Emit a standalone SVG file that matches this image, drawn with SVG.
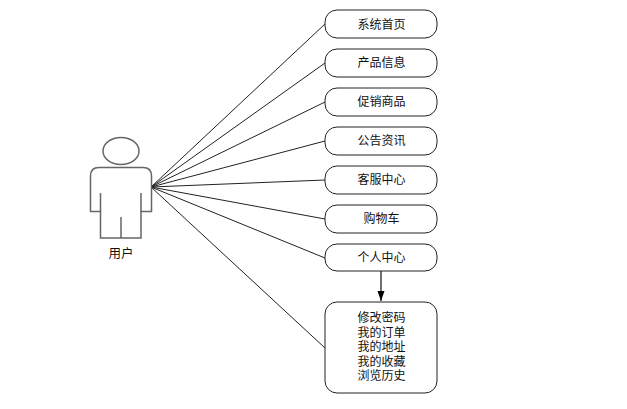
<svg xmlns="http://www.w3.org/2000/svg" width="627" height="409" viewBox="0 0 627 409">
<style>
.box{fill:#fff;stroke:#222;stroke-width:1}
.link{fill:none;stroke:#222;stroke-width:1}
.drop{fill:none;stroke:#222;stroke-width:1.300}
.actor{fill:#fff;stroke:#666;stroke-width:1.500}
text{font-family:"Noto Sans CJK SC","Liberation Sans",sans-serif;font-size:12px;fill:#111;text-anchor:middle}
</style>
<defs>
<marker id="arrow" markerWidth="10" markerHeight="8" refX="10" refY="4" orient="auto" markerUnits="userSpaceOnUse"><path d="M0 0.500L10 4L0 7.500z" fill="#000"/></marker>
</defs>
<rect width="627" height="409" fill="#fff"/>
<g id="connectors">
<path class="link" d="M151 187L325 24"/>
<path class="link" d="M151 187L325 63"/>
<path class="link" d="M151 187L325 102"/>
<path class="link" d="M151 187L325 141"/>
<path class="link" d="M151 187L325 180"/>
<path class="link" d="M151 187L325 219"/>
<path class="link" d="M151 187L325 258"/>
<path class="link" d="M151 187L325 348"/>
<path class="drop" d="M381 271V301" marker-end="url(#arrow)"/>
</g>
<g id="actor">
<ellipse class="actor" cx="121" cy="151" rx="18" ry="13.500"/>
<path class="actor" d="M100.500 211.500H90.500V176Q90.500 167.500 99 167.500H143Q151.500 167.500 151.500 176V211.500H141V238H100.500Z"/>
<path class="actor" d="M100.500 193V211.500M141 193V211.500M121 217V238"/>
<text x="121" y="258" style="font-size:12.500px">用户</text>
</g>
<g id="n1"><rect class="box" x="325" y="10" width="112" height="28" rx="12"/><text x="381.500" y="28.500">系统首页</text></g>
<g id="n2"><rect class="box" x="325" y="49" width="112" height="28" rx="12"/><text x="381.500" y="67">产品信息</text></g>
<g id="n3"><rect class="box" x="325" y="88" width="112" height="28" rx="12"/><text x="381.500" y="106">促销商品</text></g>
<g id="n4"><rect class="box" x="325" y="127" width="112" height="28" rx="12"/><text x="381.500" y="145">公告资讯</text></g>
<g id="n5"><rect class="box" x="325" y="166" width="112" height="28" rx="12"/><text x="381.500" y="184">客服中心</text></g>
<g id="n6"><rect class="box" x="325" y="205" width="112" height="28" rx="12"/><text x="381.500" y="223">购物车</text></g>
<g id="n7"><rect class="box" x="325" y="244" width="112" height="27" rx="12"/><text x="381.500" y="262">个人中心</text></g>
<g id="n8"><rect class="box" x="325" y="302" width="112" height="91" rx="12"/>
<text x="381.500" y="322"><tspan x="381.500">修改密码</tspan><tspan x="381.500" dy="14.500">我的订单</tspan><tspan x="381.500" dy="14.500">我的地址</tspan><tspan x="381.500" dy="14.500">我的收藏</tspan><tspan x="381.500" dy="14.500">浏览历史</tspan></text></g>
</svg>
